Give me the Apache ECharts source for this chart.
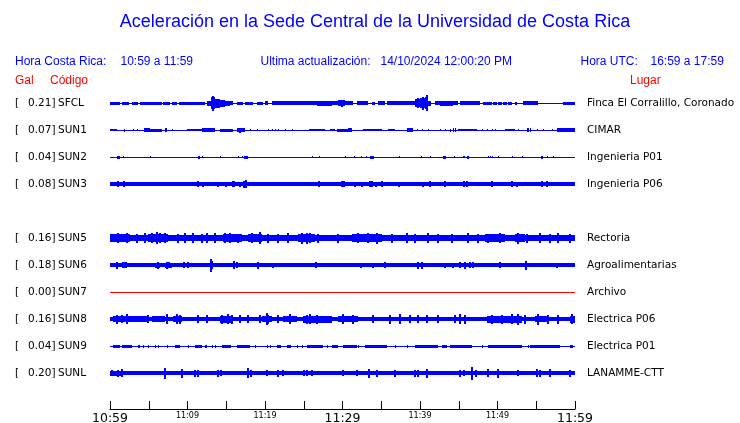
<!DOCTYPE html>
<html><head><meta charset="utf-8">
<script src="https://cdn.jsdelivr.net/npm/echarts@6/dist/echarts.min.js"></script>
<style>html,body{margin:0;padding:0;background:#fff}#c{width:740px;height:423px}</style>
</head><body><div id="c"></div>
<script>
// ---------- data ----------
const titleText = 'Aceleración en la Sede Central de la Universidad de Costa Rica';
const localRangeLabel = 'Hora Costa Rica:';
const localRange = '10:59 a 11:59';
const updateLabel = 'Ultima actualización:';
const updateTime = '14/10/2024 12:00:20 PM';
const utcLabel = 'Hora UTC:';
const utcRange = '16:59 a 17:59';
const colGal = 'Gal', colCode = 'Código', colPlace = 'Lugar';

const stations = ['SFCL','SUN1','SUN2','SUN3','SUN5','SUN6','SUN7','SUN8','SUN9','SUNL'];
const galValues = [0.21,0.07,0.04,0.08,0.16,0.18,0.00,0.16,0.04,0.20];
const places = ['Finca El Corralillo, Coronado','CIMAR','Ingenieria P01','Ingenieria P06','Rectoria','Agroalimentarias','Archivo','Electrica P06','Electrica P01','LANAMME-CTT'];
const rowSlots = [0,1,2,3,5,6,7,8,9,10];

// time in minutes after 10:59
const timeStart = 0, timeEnd = 60;
const xLabelMinutes = [0,10,20,30,40,50,60];
const xLabelTexts = ['10:59','11:09','11:19','11:29','11:39','11:49','11:59'];
const xBigMinutes = [0,30,60];

// relative amplitude (27 units = one row spacing)
const noiseFloor = [0.5,0.5,0.5,1.7,3.3,1.7,0.5,2.4,0.5,1.7];

// bursts: [start min, end min, amplitude]
const burstsSFCL = [[0,1.3,1.5],[1.5,2.45,1.5],[2.8,3.66,1.5],[3.87,6.67,1.5],[6.88,7.74,1.5],[7.96,8.6,1.5],[8.9,12.26,1.5],[12.47,13.03,2.5],[13.03,13.55,6],[13.55,14.19,4.5],[14.19,14.84,3.5],[14.84,15.48,2.5],[15.48,15.91,2],[16.34,17.2,1.5],[17.42,18.49,1.5],[18.92,19.78,1.5],[20.0,20.43,2],[20.86,26.66,1.6],[26.66,28.6,2.5],[28.6,29.46,1.6],[29.46,30.32,3],[30.32,31.39,1.6],[31.82,33.33,1.6],[33.76,34.19,1.5],[34.62,35.48,1.6],[35.69,38.06,1.6],[38.06,39.35,2],[39.35,39.99,4],[39.99,40.64,5],[40.64,41.07,6],[41.07,41.41,2.5],[41.93,42.57,2],[42.57,44.29,2.5],[44.29,44.94,2],[45.15,47.73,1.6],[48.16,49.24,1.5],[49.45,49.88,1.5],[50.1,50.53,1.5],[50.74,51.17,1.5],[51.39,51.82,1.5],[52.25,52.46,1.5],[53.32,55.26,2],[58.48,60,1.5]];
const burstsSUN1 = [[0,0.86,1.4],[4.43,5.16,1.8],[5.16,6.67,1.5],[9.89,11.83,1.4],[11.83,13.55,1.6],[14.19,15.91,1.5],[16.34,17.42,2.2],[25.67,27.74,1.4],[28.38,29.03,1.4],[29.24,30.75,1.5],[30.75,31.18,1.8],[32.68,35.05,1.4],[35.91,36.77,1.4],[38.27,39.13,1.8],[44.94,47.3,1.4],[50.96,52.25,1.4],[57.62,60,1.6]];
const burstsSUN2 = [[0.86,1.29,1.5],[11.31,11.65,1.5],[17.33,17.76,1.5],[33.54,34.1,1.5],[43.0,43.3,1.5],[45.58,45.8,1.3],[46.01,46.27,1.5],[55.6,55.81,1.5]];
const burstsSUN3 = [[17.2,17.7,3],[29.9,30.3,2.5],[33.5,33.8,2.5]];
const burstsSUN5 = [[0,2.58,4],[4.95,7.53,4.2],[14.62,16.99,4],[17.85,19.57,3.8],[24.3,26.45,4],[31.18,35.05,3.8],[48.38,50.96,3.8],[52.25,53.54,3.8]];
const burstsSUN6 = [[1.5,2.15,2.8],[5.8,6.45,2.5],[7.1,7.96,2.5],[9.25,10.32,2.2],[13.98,14.84,2],[39.56,40.64,2.3],[45.15,47.09,2.2]];
const burstsSUN7 = [];
const burstsSUN8 = [[0.43,4.95,3.3],[5.38,7.1,2.8],[8.17,9.25,3.2],[14.19,15.91,3.5],[19.57,20.86,3.2],[22.36,24.08,3.3],[24.94,28.6,3.5],[29.46,32.04,3],[48.59,53.11,3.5],[54.83,56.55,3],[59.34,60,3.5]];
const burstsSUN9 = [[0.43,1.29,1.5],[1.5,2.8,1.5],[3.66,3.87,1.5],[8.39,9.03,1.5],[10.97,11.83,1.5],[12.26,12.47,1.5],[14.41,15.61,1.5],[16.34,18.06,1.5],[21.5,22.06,1.5],[22.79,23.35,1.5],[25.37,27.52,1.5],[28.6,29.46,1.5],[30.1,31.82,1.5],[32.9,35.69,1.5],[39.35,42.36,1.5],[42.79,43.43,1.5],[43.86,46.66,1.5],[48.81,53.11,1.5],[54.18,58.05,1.5],[59.34,59.77,1.5]];
const burstsSUNL = [[0,1.72,2.5],[48.38,50.53,2.3],[54.83,56.12,2.3],[58.48,60,2.3]];

// spikes: [minute, amplitude]
const spikesSFCL = [[13.3,7.5],[13.2,6],[29.9,3.5],[40.85,8],[40.42,6.5],[39.78,5]];
const spikesSUN1 = [[1.85,1.5],[3.01,1.4],[3.44,1.4],[7.22,2.2],[7.96,1.4],[16.77,2.5],[18.06,1.4],[18.92,1.4],[20.43,1.4],[20.86,1.4],[21.29,1.4],[21.72,1.4],[22.58,1.4],[23.44,1.4],[39.56,1.4],[40.21,1.4],[40.98,1.4],[42.57,1.4],[43.22,1.4],[43.86,1.5],[44.29,1.8],[44.51,1.8],[47.95,1.4],[48.59,1.4],[49.24,1.4],[49.67,1.4],[52.68,1.4],[53.88,2],[54.18,1.8],[55.04,1.4],[55.9,1.4],[56.98,1.4]];
const spikesSUN2 = [[1.72,1.2],[5.16,0.8],[11.83,0.9],[14.19,1],[16.47,0.8],[16.99,0.8],[26.02,1],[27.0,1.3],[30.32,1.2],[31.52,1.2],[32.38,1],[32.98,1],[37.32,0.8],[40.12,1],[41.28,1.2],[44.42,1],[48.72,1.3],[49.02,1.3],[49.32,1.3],[50.01,1],[51.82,1.3],[53.11,0.8],[56.33,1.3],[57.19,1]];
const spikesSUN3 = [[1.08,3],[1.85,3],[11.4,3],[12.04,2.5],[13.89,2.5],[14.96,2.5],[15.91,3],[16.04,3],[16.77,2.5],[17.33,3.5],[17.5,4],[27.0,3],[29.97,3],[30.23,3],[31.61,2.5],[32.47,2.5],[33.54,3],[33.76,3],[34.27,2.5],[35.05,2.8],[37.32,2.5],[40.42,2.5],[41.28,2.8],[43.22,3],[45.71,2.8],[46.01,2.8],[49.32,2.8],[51.82,3],[52.55,2.5],[53.88,2.3],[55.69,3],[56.33,3],[58.35,2.3]];
const spikesSUN5 = [[1.08,5],[2.15,5],[3.44,4.5],[4.52,5],[5.38,5],[6.02,6],[6.45,5],[7.1,5],[8.82,4.5],[9.68,5],[10.75,5],[11.83,4.5],[12.47,5],[13.55,5],[14.84,5],[15.48,5],[16.56,4.5],[18.28,5],[19.35,6],[20.43,4.5],[21.72,4.5],[23.01,5],[24.73,5.5],[25.37,5.5],[25.8,5],[26.88,4.5],[29.46,4.5],[32.04,5],[33.33,5],[34.4,5.5],[36.34,4.5],[38.27,5],[39.35,4.5],[41.07,5],[42.36,4.5],[44.08,4.5],[46.23,5],[47.52,4.5],[48.81,4.5],[50.31,5],[52.68,5.5],[53.75,4.5],[55.47,5],[56.76,4.5],[57.84,5],[59.34,4.5]];
const spikesSUN6 = [[0.86,3.5],[1.72,3],[6.24,3.5],[7.31,3.5],[7.61,3],[9.59,3],[10.11,3],[13.03,6.5],[13.2,4],[16.04,4],[16.34,3],[19.14,3.5],[21.07,2.5],[26.53,3],[32.38,2.5],[33.97,2.5],[35.48,3],[39.78,3.5],[40.29,3.5],[43.22,2.5],[44.29,2.5],[45.15,3],[45.8,3.5],[46.44,3],[46.87,3],[50.31,3],[53.62,4.5],[57.62,2.5]];
const spikesSUN7 = [];
const spikesSUN8 = [[0.86,4.5],[1.5,4],[2.15,5],[4.95,4],[7.31,5],[8.6,5],[9.03,4.5],[11.4,4],[12.47,4],[14.41,4.5],[15.27,5],[15.7,4.5],[16.77,4],[17.85,4],[19.35,4],[20.21,6],[20.43,4.5],[21.72,4],[23.22,5],[25.37,4.5],[25.8,5],[26.66,4.5],[30.1,5],[31.39,4.5],[33.97,4],[36.12,4.5],[37.41,5],[38.7,4],[39.78,4],[40.85,4],[42.36,4],[44.51,4],[45.15,5],[45.8,4.5],[49.24,4.5],[50.53,4.5],[51.82,5],[52.68,5.5],[53.54,4.5],[55.26,5.5],[56.55,4.5],[57.84,4.5],[59.56,5]];
const spikesSUN9 = [[4.3,1.5],[4.95,1.5],[5.8,1.5],[6.24,1.5],[7.31,1.5],[10.11,1.5],[13.12,1.5],[13.55,1.5],[18.71,1.5],[20.21,1.5],[20.64,1.5],[24.08,1.5],[24.73,1.5],[27.95,1.5],[32.04,1.5],[36.77,1.5],[38.27,1.5],[47.95,1.5],[53.97,1.5]];
const spikesSUNL = [[0.22,3],[1.08,3.5],[1.59,4],[7.1,5.5],[9.25,4.5],[10.97,3.5],[11.31,3.5],[13.89,3.5],[14.32,3],[17.76,5],[18.19,3.5],[20.21,3],[21.72,3.5],[22.36,3],[25.03,3],[25.37,3],[26.02,3],[30.1,3],[31.91,3],[33.45,4.5],[34.4,3.5],[36.77,3.5],[39.35,3.5],[39.78,3.5],[40.85,4.5],[45.15,3.5],[45.71,3],[46.66,6.5],[47.17,3.5],[48.72,4],[50.1,4.5],[52.68,3],[55.04,4],[55.47,3.5],[56.76,4],[59.34,3.5]];

// ---------- build ----------
const burstLists = [burstsSFCL,burstsSUN1,burstsSUN2,burstsSUN3,burstsSUN5,burstsSUN6,burstsSUN7,burstsSUN8,burstsSUN9,burstsSUNL];
const spikeLists = [spikesSFCL,spikesSUN1,spikesSUN2,spikesSUN3,spikesSUN5,spikesSUN6,spikesSUN7,spikesSUN8,spikesSUN9,spikesSUNL];
const AMP_UNITS_PER_ROW = 27;
const BLUE = '#0000ff', RED = '#ff0000';
const colorFor = i => galValues[i] === 0 ? RED : BLUE;

const bandData = [], spikeData = [];
stations.forEach((s, i) => {
  bandData.push([timeStart, timeEnd, rowSlots[i], noiseFloor[i], i]);
  burstLists[i].forEach(b => bandData.push([b[0], b[1], rowSlots[i], b[2], i]));
  spikeLists[i].forEach(p => spikeData.push([p[0], rowSlots[i], p[1], i]));
});

function renderBand(params, api) {
  const t0 = api.value(0), t1 = api.value(1), row = api.value(2), amp = api.value(3), si = api.value(4);
  const p0 = api.coord([t0, row]), p1 = api.coord([t1, row]);
  const h = api.size([0, amp / AMP_UNITS_PER_ROW])[1];
  let top = Math.round(p0[1] - h), bot = Math.round(p0[1] + h);
  if (bot - top < 1) bot = top + 1;
  let x0 = Math.round(p0[0]), x1 = Math.round(p1[0]);
  if (x1 - x0 < 1) x1 = x0 + 1;
  return {type: 'rect', shape: {x: x0, y: top, width: x1 - x0, height: bot - top}, style: {fill: colorFor(si)}};
}
function renderSpike(params, api) {
  const t = api.value(0), row = api.value(1), amp = api.value(2), si = api.value(3);
  const p = api.coord([t, row]);
  const h = api.size([0, amp / AMP_UNITS_PER_ROW])[1];
  let top = Math.round(p[1] - h), bot = Math.round(p[1] + h);
  if (bot - top < 1) bot = top + 1;
  const w = amp >= 2 ? 2 : 1;
  const x0 = Math.round(p[0]) - (w > 1 ? 1 : 0);
  return {type: 'rect', shape: {x: x0, y: top, width: w, height: bot - top}, style: {fill: colorFor(si)}};
}

function rowIndex(v) {
  const r = Math.round(v);
  if (Math.abs(v - r) > 1e-6) return -1;
  return rowSlots.indexOf(r);
}

const FONT = 'DejaVu Sans';
const HFONT = '"Liberation Sans", Arial, sans-serif';
const yCommon = {
  type: 'value', min: -1, max: 34 / 3, interval: 1, inverse: true,
  axisLine: {show: false, onZero: false}, axisTick: {show: false}, splitLine: {show: false}
};

const chart = echarts.init(document.getElementById('c'), null, {renderer: 'canvas'});
chart.setOption({
  animation: false,
  backgroundColor: '#fff',
  grid: {left: 110, right: 165, top: 76, bottom: 14, containLabel: false, outerBoundsMode: 'none'},
  xAxis: {
    type: 'value', min: timeStart, max: timeEnd, interval: 5, position: 'bottom',
    axisLine: {show: true, onZero: false, lineStyle: {color: '#000', width: 1}},
    axisTick: {show: true, inside: true, length: 8, lineStyle: {color: '#000', width: 1}},
    splitLine: {show: false},
    axisLabel: {
      show: true, margin: 3, showMinLabel: true, showMaxLabel: true,
      formatter: v => {
        const i = xLabelMinutes.indexOf(Math.round(v));
        if (i < 0) return '';
        return (xBigMinutes.indexOf(xLabelMinutes[i]) >= 0 ? '{big|' : '{small|') + xLabelTexts[i] + '}';
      },
      rich: {
        big: {fontFamily: FONT, fontSize: 12.5, color: '#000'},
        small: {fontFamily: FONT, fontSize: 8, color: '#000'}
      }
    }
  },
  yAxis: [
    Object.assign({}, yCommon, {
      position: 'left',
      axisLabel: {
        show: true, align: 'left', margin: 95, showMinLabel: true, showMaxLabel: true,
        formatter: v => {
          const i = rowIndex(v);
          if (i < 0) return '';
          return '{b|[}{v|' + galValues[i].toFixed(2) + ']}{c|' + stations[i] + '}';
        },
        rich: {
          b: {fontFamily: FONT, fontSize: 10.5, color: '#000', width: 13},
          v: {fontFamily: FONT, fontSize: 10.5, color: '#000', width: 30},
          c: {fontFamily: FONT, fontSize: 10.5, color: '#000'}
        }
      }
    }),
    Object.assign({}, yCommon, {
      position: 'right',
      axisLabel: {
        show: true, align: 'left', margin: 12,
        fontFamily: FONT, fontSize: 10.5, color: '#000',
        formatter: v => { const i = rowIndex(v); return i < 0 ? '' : places[i]; }
      }
    })
  ],
  series: [
    {type: 'custom', renderItem: renderBand, data: bandData, encode: {x: [0, 1], y: 2}, clip: true, silent: true},
    {type: 'custom', renderItem: renderSpike, data: spikeData, encode: {x: 0, y: 1}, clip: true, silent: true}
  ],
  graphic: [
    {type: 'text', style: {text: titleText, x: 375, y: 22.5, textAlign: 'center', textVerticalAlign: 'middle', font: '18px ' + HFONT, fill: BLUE}},
    {type: 'text', style: {text: localRangeLabel, x: 15, y: 61.5, textVerticalAlign: 'middle', font: '12px ' + HFONT, fill: BLUE}},
    {type: 'text', style: {text: localRange, x: 120.5, y: 61.5, textVerticalAlign: 'middle', font: '12px ' + HFONT, fill: BLUE}},
    {type: 'text', style: {text: updateLabel, x: 260.5, y: 61.5, textVerticalAlign: 'middle', font: '12px ' + HFONT, fill: BLUE}},
    {type: 'text', style: {text: updateTime, x: 380.5, y: 61.5, textVerticalAlign: 'middle', font: '12px ' + HFONT, fill: BLUE}},
    {type: 'text', style: {text: utcLabel, x: 580.5, y: 61.5, textVerticalAlign: 'middle', font: '12px ' + HFONT, fill: BLUE}},
    {type: 'text', style: {text: utcRange, x: 650.5, y: 61.5, textVerticalAlign: 'middle', font: '12px ' + HFONT, fill: BLUE}},
    {type: 'text', style: {text: colGal, x: 15, y: 81, textVerticalAlign: 'middle', font: '12px ' + HFONT, fill: RED}},
    {type: 'text', style: {text: colCode, x: 50, y: 81, textVerticalAlign: 'middle', font: '12px ' + HFONT, fill: RED}},
    {type: 'text', style: {text: colPlace, x: 630, y: 81, textVerticalAlign: 'middle', font: '12px ' + HFONT, fill: RED}}
  ]
});
</script>
</body></html>
